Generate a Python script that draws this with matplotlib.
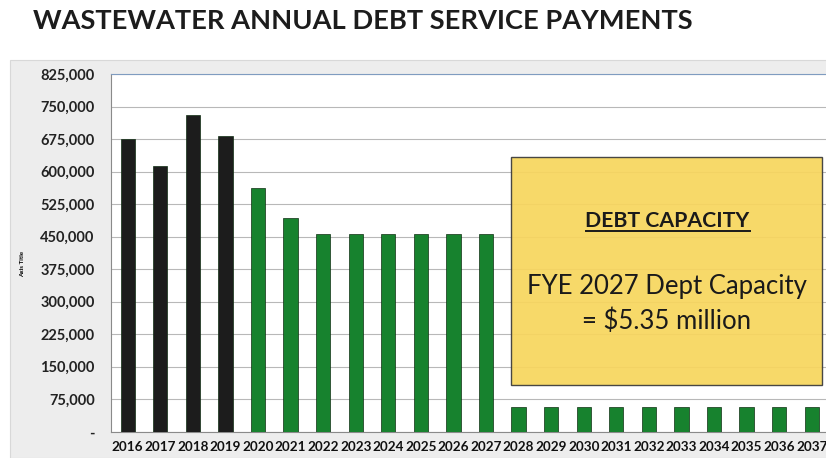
import numpy as np
import matplotlib.pyplot as plt
from matplotlib.patches import Rectangle
from matplotlib.ticker import FuncFormatter

years = [str(y) for y in range(2016, 2038)]
payments = [675000, 613000, 731000, 682000,
            562000, 494000, 457000, 457000, 457000, 457000, 457000, 457000,
            58000, 58000, 58000, 58000, 58000, 58000, 58000, 58000, 58000, 58000]
n_actual = 4  # 2016-2019 paid, rest projected

title = 'WASTEWATER ANNUAL DEBT SERVICE PAYMENTS'
box_head = 'DEBT CAPACITY'
box_lines = ['FYE 2027 Dept Capacity', '= $5.35 million']

plt.rcParams['font.family'] = ['Lato', 'DejaVu Sans']

fig = plt.figure(figsize=(8.26, 4.58), dpi=100)
W, H = 826, 458

# grey chart frame behind the plot area
fig.patches.append(Rectangle((10 / W, 0), 1, (H - 60) / H, transform=fig.transFigure,
                             facecolor='#ededed', edgecolor='#d8d8d8', lw=0.8, zorder=-5))
fig.text(33 / W, 1 - 21 / H, title, fontsize=19.6, fontweight='bold', color='#1c1c1c',
         ha='left', va='center')

ax = fig.add_axes([111.4 / W, (H - 431.7) / H, 716.6 / W, (431.7 - 74) / H])
ax.set_zorder(2)
ax.set_facecolor('white')

x = np.arange(len(years))
colors = ['#1c1c1c'] * n_actual + ['#17822e'] * (len(years) - n_actual)
ax.bar(x, payments, width=0.44, color=colors, edgecolor='#0f2e12', lw=0.5, zorder=3)

ax.set_xlim(-0.5, len(years) - 0.5)
ax.set_ylim(0, 825000)
ax.set_yticks(np.arange(0, 825001, 75000))
ax.yaxis.set_major_formatter(FuncFormatter(lambda v, p: '-' if v == 0 else f'{v:,.0f}'))
ax.set_xticks(x)
ax.set_xticklabels(years)
ax.tick_params(axis='y', length=0, pad=12, labelsize=10.5, labelcolor='#222222')
ax.tick_params(axis='x', length=0, pad=7, labelsize=9.7, labelcolor='#111111')
for lbl in ax.get_xticklabels() + ax.get_yticklabels():
    lbl.set_fontweight('bold')
ax.grid(axis='y', color='#b8b8b8', lw=0.8, zorder=0)
ax.spines['right'].set_visible(False)
ax.spines['top'].set_color('#7f9cc0')
ax.spines['left'].set_color('#8a8a8a')
ax.spines['bottom'].set_color('#8a8a8a')
ax.set_ylabel('Axis Title', fontsize=4.5, fontweight='bold')
ax.yaxis.set_label_coords(-0.12, 0.47)

# debt capacity call-out
ax.add_patch(Rectangle((11.78, 108000), 9.55, 526000, facecolor='#f7d65e', alpha=0.93,
                       edgecolor='#3a3a3a', lw=1.0, zorder=4))
cx = 11.78 + 9.55 / 2
ax.text(cx, 486000, box_head, fontsize=15.3, fontweight='bold', color='#1a1a1a',
        ha='center', va='center', zorder=5)
ax.plot([14.07, 19.1], [462000, 462000], color='#1a1a1a', lw=1.4, zorder=5)
ax.text(cx, 334000, box_lines[0], fontsize=18.5, color='#1a1a1a', ha='center', va='center', zorder=5)
ax.text(cx, 254000, box_lines[1], fontsize=18.5, color='#1a1a1a', ha='center', va='center', zorder=5)

fig.savefig('out.png', dpi=100)
